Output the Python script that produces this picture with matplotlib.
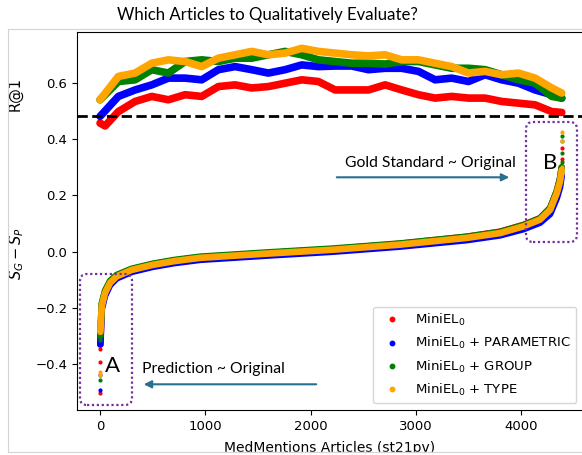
import matplotlib
matplotlib.use('Agg')
import matplotlib.pyplot as plt
from matplotlib.lines import Line2D
from matplotlib.patches import FancyBboxPatch, FancyArrowPatch, Rectangle

W, H, DPI = 582, 455, 100

labels = ['MiniEL$_0$', 'MiniEL$_0$ + PARAMETRIC', 'MiniEL$_0$ + GROUP', 'MiniEL$_0$ + TYPE']
colors = ['red', 'blue', 'green', 'orange']

# ---- R@1 curves (article index, value) ----
r_x = [0, 174, 333, 491, 649, 808, 966, 1124, 1283, 1441, 1599, 1758, 1916, 2074, 2233,
       2391, 2550, 2708, 2866, 3025, 3183, 3341, 3500, 3658, 3816, 3975, 4133, 4291, 4386]
r_x_red = [0, 48, 174, 333, 491, 649, 808, 966, 1124, 1283, 1441, 1599, 1758, 1916, 2074, 2233,
           2391, 2550, 2708, 2866, 3025, 3183, 3341, 3500, 3658, 3816, 3975, 4133, 4291, 4386]
r1_red = [0.457, 0.447, 0.498, 0.534, 0.552, 0.540, 0.558, 0.552, 0.587, 0.593, 0.582, 0.587, 0.599,
          0.611, 0.605, 0.575, 0.575, 0.575, 0.593, 0.575, 0.558, 0.546, 0.552, 0.546, 0.546,
          0.534, 0.528, 0.522, 0.498, 0.495]
r1_blue = [0.481, 0.552, 0.575, 0.593, 0.617, 0.617, 0.611, 0.647, 0.658, 0.647, 0.635, 0.647,
           0.664, 0.658, 0.660, 0.660, 0.647, 0.652, 0.652, 0.641, 0.611, 0.617, 0.605, 0.629,
           0.611, 0.599, 0.575, 0.558, 0.546]
r1_green = [0.540, 0.605, 0.611, 0.647, 0.635, 0.676, 0.682, 0.676, 0.688, 0.688, 0.700, 0.712,
            0.700, 0.682, 0.676, 0.670, 0.670, 0.667, 0.676, 0.676, 0.664, 0.652, 0.652, 0.647,
            0.629, 0.611, 0.599, 0.552, 0.546]
r1_orange = [0.540, 0.623, 0.635, 0.670, 0.682, 0.676, 0.658, 0.688, 0.700, 0.712, 0.700, 0.706,
             0.723, 0.712, 0.706, 0.700, 0.696, 0.700, 0.682, 0.682, 0.670, 0.658, 0.635, 0.641,
             0.629, 0.635, 0.617, 0.582, 0.564]
r1_baseline = 0.483

# ---- S_G - S_P sorted curves ----
s_x = [3, 16, 47, 95, 158, 300, 500, 700, 950, 1584, 2217, 2850, 3484, 3800, 4022, 4180, 4276,
       4339, 4370, 4386]
s_orange = [-0.285, -0.194, -0.147, -0.111, -0.088, -0.065, -0.047, -0.034, -0.022, -0.007, 0.007,
            0.025, 0.049, 0.066, 0.090, 0.114, 0.149, 0.208, 0.250, 0.290]
s_blue = [-0.330, -0.205, -0.157, -0.119, -0.095, -0.072, -0.054, -0.041, -0.029, -0.014, 0.000,
          0.018, 0.041, 0.058, 0.080, 0.103, 0.134, 0.190, 0.230, 0.270]
s_green = [-0.300, -0.185, -0.139, -0.104, -0.083, -0.061, -0.043, -0.030, -0.018, -0.003, 0.011,
           0.029, 0.053, 0.070, 0.094, 0.118, 0.155, 0.215, 0.260, 0.300]
s_red = [-0.330, -0.190, -0.144, -0.108, -0.085, -0.063, -0.045, -0.032, -0.020, -0.005, 0.009,
         0.028, 0.053, 0.071, 0.095, 0.119, 0.155, 0.215, 0.260, 0.300]

# isolated extreme articles
out_red_x = [0, 1, 2, 4388, 4389]
out_red = [-0.502, -0.393, -0.345, 0.330, 0.368]
out_blue_x = [0, 1, 2]
out_blue = [-0.493, -0.440, -0.330]
out_green_x = [0, 1, 4386, 4387, 4388, 4389]
out_green = [-0.457, -0.315, 0.320, 0.350, 0.392, 0.410]
out_orange_x = [0, 1, 4387, 4388, 4389]
out_orange = [-0.440, -0.429, 0.300, 0.392, 0.425]

xticks = [0, 1000, 2000, 3000, 4000]
yticks = [-0.4, -0.2, 0.0, 0.2, 0.4, 0.6]

fig = plt.figure(figsize=(W / DPI, H / DPI), dpi=DPI)
T = fig.dpi_scale_trans


def P(x, y):
    return (x / DPI, (H - y) / DPI)


ax = fig.add_axes([77 / W, 1 - 410 / H, (583 - 77) / W, (410 - 32) / H])

r_sets = [(r_x_red, r1_red), (r_x, r1_blue), (r_x, r1_green), (r_x, r1_orange)]
for (xs, ys), c in zip(r_sets, colors):
    ax.plot(xs, ys, color=c, lw=5.5, solid_capstyle='round', solid_joinstyle='round', zorder=2)

s_sets = [s_red, s_blue, s_green, s_orange]
for ys, c in zip(s_sets, colors):
    ax.plot(s_x, ys, color=c, lw=4.8, solid_capstyle='round', solid_joinstyle='round', zorder=2)

outs = [(out_red_x, out_red), (out_blue_x, out_blue), (out_green_x, out_green),
        (out_orange_x, out_orange)]
for (xs, ys), c in zip(outs, colors):
    ax.scatter(xs, ys, s=9, color=c, linewidths=0, zorder=3)

ax.axhline(r1_baseline, color='black', lw=2, ls='--', zorder=5)

ax.set_xlim(-219, 4588)
ax.set_ylim(-0.563, 0.781)
ax.set_xticks(xticks)
ax.set_yticks(yticks)
ax.tick_params(labelsize=9.5)
ax.set_xlabel('MedMentions Articles (st21pv)', fontsize=10, labelpad=6)

handles = [Line2D([], [], ls='none', marker='o', ms=3.2, color=c) for c in colors]
ax.legend(handles, labels, loc='lower right', fontsize=9.5, labelspacing=0.55)

fig.text(15 / W, 1 - 94 / H, 'R@1', rotation=90, ha='center', va='center', fontsize=10.5)
fig.text(17 / W, 1 - 253 / H, '$S_G - S_P$', rotation=90, ha='center', va='center', fontsize=10.5)

# overlay annotations
font_ann = 'Lato'
purple = '#7030a0'
teal = '#2a6f8f'

for (x0, y0, x1, y1) in [(80, 274, 132, 405), (526, 122, 577, 242)]:
    bx, by = P(x0, y1)
    box = FancyBboxPatch((bx, by), (x1 - x0) / DPI, (y1 - y0) / DPI,
                         boxstyle='round,pad=0,rounding_size=0.07', transform=T,
                         fill=False, ec=purple, lw=1.6, ls=(0, (1, 1.2)), zorder=10)
    fig.add_artist(box)

fig.text(*P(113, 366), 'A', transform=T, ha='center', va='center', fontsize=16, family=font_ann)
fig.text(*P(550, 163), 'B', transform=T, ha='center', va='center', fontsize=16, family=font_ann)
t_pred = fig.text(*P(142, 369), 'Prediction ~ Original', transform=T, ha='left', va='center',
                  fontsize=11, family=font_ann)
t_gold = fig.text(*P(516, 163), 'Gold Standard ~ Original', transform=T, ha='right', va='center',
                  fontsize=11, family=font_ann)
title = fig.text(*P(267, 15), 'Which Articles to Qualitatively Evaluate?', transform=T,
                 ha='center', va='center', fontsize=13, family=font_ann)

for (xa, xb, yy) in [(319, 141, 384.3), (334, 512, 177.3)]:
    arr = FancyArrowPatch(P(xa, yy), P(xb, yy), transform=T, arrowstyle='-|>',
                          mutation_scale=11, color=teal, lw=1.5, zorder=10)
    fig.add_artist(arr)

# screenshot frame
for seg in [((8, 29), (8, 452)), ((8, 29), (582, 29)), ((8, 452), (582, 452))]:
    (xa, ya), (xb, yb) = seg
    fig.add_artist(Line2D([xa / DPI, xb / DPI], [(H - ya) / DPI, (H - yb) / DPI], transform=T,
                          color='#d4d4d4', lw=0.8, zorder=20))
fig.add_artist(Rectangle(P(0, 455), W / DPI, 2.6 / DPI, transform=T, color='white', zorder=19))

# fit overlay text widths
fig.canvas.draw()
r = fig.canvas.get_renderer()
for t, target in [(t_pred, 142), (title, 300)]:
    bb = t.get_window_extent(r)
    t.set_fontsize(t.get_fontsize() * target / bb.width)
t_gold.set_fontsize(t_pred.get_fontsize())

fig.savefig('out.png', dpi=DPI)
